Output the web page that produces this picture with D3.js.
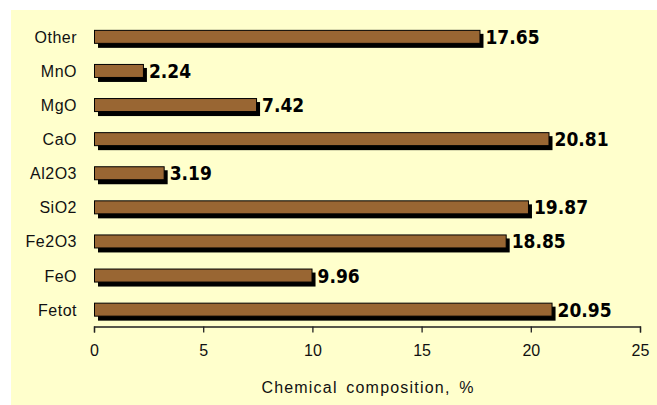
<!DOCTYPE html>
<html><head><meta charset="utf-8">
<script src="https://cdn.jsdelivr.net/npm/d3@7"></script>
<style>
body{margin:0;background:#fff;}
svg{display:block;}
</style></head>
<body>
<script>
const categories = ["Other","MnO","MgO","CaO","Al2O3","SiO2","Fe2O3","FeO","Fetot"];
const values = [17.65,2.24,7.42,20.81,3.19,19.87,18.85,9.96,20.95];
const valueLabels = ["17.65","2.24","7.42","20.81","3.19","19.87","18.85","9.96","20.95"];
const xTicks = [0,5,10,15,20,25];
const axisTitle = "Chemical composition, %";

const W=657,H=405;
const svg=d3.select("body").append("svg").attr("width",W).attr("height",H);
svg.append("rect").attr("x",11).attr("y",10).attr("width",W-11).attr("height",H-10).attr("fill","#FFFFCC");

const x=d3.scaleLinear().domain([0,25]).range([94,640]);
const y=d3.scaleBand().domain(categories).range([19.8,326.7]);
const bh=14, sh=4;
const data=categories.map((c,i)=>({c,v:values[i],l:valueLabels[i]}));

const g=svg.append("g");
// shadows
g.selectAll("rect.sh").data(data).join("rect")
 .attr("x",x(0)+sh).attr("y",d=>y(d.c)+y.bandwidth()/2-bh/2+sh)
 .attr("width",d=>x(d.v)-x(0)).attr("height",bh).attr("fill","#000");
g.selectAll("rect.bar").data(data).join("rect")
 .attr("x",x(0)+0.5).attr("y",d=>y(d.c)+y.bandwidth()/2-bh/2+0.5)
 .attr("width",d=>x(d.v)-x(0)).attr("height",bh-1)
 .attr("fill","#996633").attr("stroke","#000").attr("stroke-width",1);
g.selectAll("text.val").data(data).join("text")
 .attr("x",d=>x(d.v)+6).attr("y",d=>y(d.c)+y.bandwidth()/2+7)
 .attr("font-family","'DejaVu Sans Condensed','Liberation Sans Narrow',sans-serif")
 .attr("font-stretch","condensed")
 .attr("font-weight","bold").attr("font-size",19).attr("fill","#000")
 .text(d=>d.l);

// category labels
g.selectAll("text.cat").data(categories).join("text")
 .attr("x",77).attr("y",d=>y(d)+y.bandwidth()/2+6)
 .attr("text-anchor","end").attr("font-family","'Liberation Sans',Arial,sans-serif")
 .attr("font-size",16).attr("letter-spacing",0.5).attr("fill","#111")
 .text(d=>d);

// x axis
const ax=svg.append("g").attr("transform","translate(0,326.5)")
 .call(d3.axisBottom(x).tickValues(xTicks).tickSize(6).tickPadding(12).tickFormat(d3.format("d")));
ax.select(".domain").attr("stroke","#222").attr("stroke-width",1.3);
ax.selectAll(".tick line").attr("stroke","#222").attr("stroke-width",1.3);
ax.selectAll(".tick text").attr("font-family","'Liberation Sans',Arial,sans-serif").attr("font-size",16).attr("fill","#111");

svg.append("text").attr("x",368).attr("y",393).attr("text-anchor","middle")
 .attr("font-family","'Liberation Sans',Arial,sans-serif").attr("font-size",16)
 .attr("letter-spacing",1.2).attr("word-spacing",3).attr("fill","#111").text(axisTitle);
</script>
</body></html>
